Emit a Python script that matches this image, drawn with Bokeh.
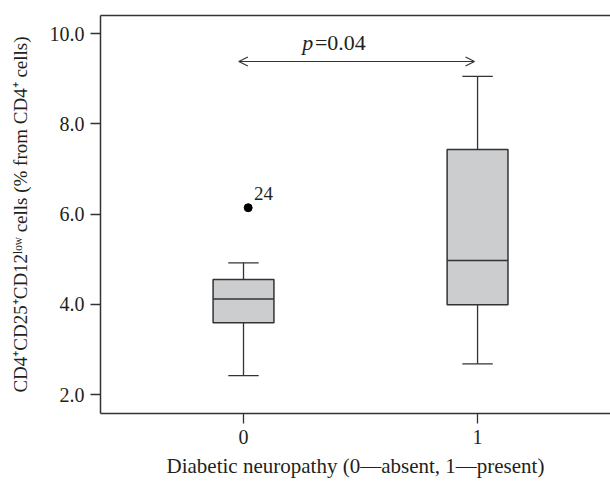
from bokeh.plotting import figure
from bokeh.models import (ColumnDataSource, Range1d, FixedTicker, LinearAxis, Arrow,
                          OpenHead, Label, CustomJSTickFormatter)
from bokeh.core.properties import value
from bokeh.transform import dodge
from bokeh.embed import file_html
from bokeh.resources import INLINE

# ---- data ----
groups = [0, 1]
q1 = [3.59, 3.99]
median = [4.12, 4.97]
q3 = [4.55, 7.43]
whisker_low = [2.42, 2.68]
whisker_high = [4.92, 9.05]
outlier_group = [0]
outlier_value = [6.14]
outlier_label = ["24"]
y_ticks = [2, 4, 6, 8, 10]
x_ticks = [0, 1]
p_text = "=0.04"

FONT = "Liberation Serif"
INK = "#231f20"
LINE = "#333333"
BOX_FILL = "#cccdcf"
BOX_W = 0.26
CAP_W = 0.13

p = figure(width=610, height=491, output_backend="svg", toolbar_location=None,
           x_range=Range1d(-0.611, 1.568), y_range=Range1d(1.58, 10.40),
           min_border_left=100, min_border_right=0, min_border_top=15,
           min_border_bottom=78)
p.outline_line_color = None
p.xgrid.visible = False
p.ygrid.visible = False
p.background_fill_color = "white"
p.border_fill_color = "white"

src = ColumnDataSource(dict(x=groups, q1=q1, med=median, q3=q3,
                            lo=whisker_low, hi=whisker_high))

# whiskers
p.segment(x0="x", y0="q3", x1="x", y1="hi", source=src, line_color=LINE, line_width=1.3)
p.segment(x0="x", y0="lo", x1="x", y1="q1", source=src, line_color=LINE, line_width=1.3)
# caps
p.segment(x0=dodge("x", -CAP_W / 2), x1=dodge("x", CAP_W / 2), y0="hi", y1="hi",
          source=src, line_color=LINE, line_width=1.3)
p.segment(x0=dodge("x", -CAP_W / 2), x1=dodge("x", CAP_W / 2), y0="lo", y1="lo",
          source=src, line_color=LINE, line_width=1.3)
# boxes
p.vbar(x="x", width=BOX_W, top="q3", bottom="q1", source=src,
       fill_color=BOX_FILL, line_color=LINE, line_width=1.5)
# medians
p.segment(x0=dodge("x", -BOX_W / 2), x1=dodge("x", BOX_W / 2), y0="med", y1="med",
          source=src, line_color=LINE, line_width=1.5)

# outlier
osrc = ColumnDataSource(dict(x=outlier_group, y=outlier_value, t=outlier_label))
p.scatter(x=dodge("x", 0.02), y="y", source=osrc, size=8, color="black")
p.text(x=dodge("x", 0.045), y="y", text="t", source=osrc, x_offset=0, y_offset=-14,
       text_font=value(FONT), text_font_size="19px", text_color=INK,
       text_baseline="alphabetic", text_align="left")

# significance arrow
ARROW_Y = 9.38
p.add_layout(Arrow(x_start=groups[0] - 0.02, x_end=groups[1] - 0.013,
                   y_start=ARROW_Y, y_end=ARROW_Y,
                   start=OpenHead(size=9, line_width=1.1, line_color=LINE),
                   end=OpenHead(size=9, line_width=1.1, line_color=LINE),
                   line_width=1.1, line_color=LINE))
p.add_layout(Label(x=0.298, y=9.80, text="p", text_font=FONT, text_font_size="22px",
                   text_font_style="italic", text_color=INK, text_align="right",
                   text_baseline="alphabetic"))
p.add_layout(Label(x=0.305, y=9.80, text=p_text, text_font=FONT, text_font_size="22px",
                   text_color=INK, text_align="left", text_baseline="alphabetic"))

# axes
for ax in (p.xaxis[0], p.yaxis[0]):
    ax.axis_line_color = LINE
    ax.axis_line_width = 1.5
    ax.major_tick_line_color = LINE
    ax.major_tick_line_width = 1.3
    ax.major_tick_out = 10
    ax.major_tick_in = 0
    ax.minor_tick_line_color = None
    ax.major_label_text_font = FONT
    ax.major_label_text_font_size = "20px"
    ax.major_label_text_color = INK
    ax.axis_label_text_font = FONT
    ax.axis_label_text_font_size = "21px"
    ax.axis_label_text_font_style = "normal"
    ax.axis_label_text_color = INK

p.yaxis[0].ticker = FixedTicker(ticks=y_ticks)
p.yaxis[0].formatter = CustomJSTickFormatter(code="return tick.toFixed(1);")
p.yaxis[0].major_label_standoff = 6
p.yaxis[0].axis_label = "CD4\u207aCD25\u207aCD12\u02e1\u1d52\u02b7 cells (% from CD4\u207a cells)"
p.yaxis[0].axis_label_text_font_size = "19px"
p.yaxis[0].axis_label_standoff = 16

p.xaxis[0].ticker = FixedTicker(ticks=x_ticks)
p.xaxis[0].major_label_standoff = 6
p.xaxis[0].axis_label = "Diabetic neuropathy (0\u2014absent, 1\u2014present)"
p.xaxis[0].axis_label_standoff = 7

top = LinearAxis(axis_line_color=LINE, axis_line_width=1.5, ticker=FixedTicker(ticks=[]),
                 major_tick_line_color=None, minor_tick_line_color=None,
                 major_tick_out=0, major_tick_in=0, major_label_standoff=0)
p.add_layout(top, "above")

open("out.html", "w").write(file_html(p, INLINE))
